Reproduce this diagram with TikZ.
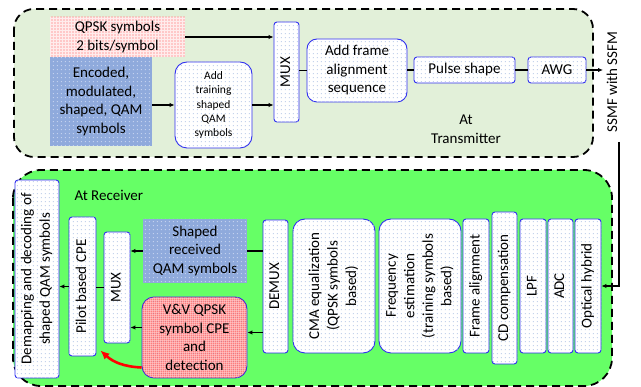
\documentclass[tikz,border=0pt]{standalone}
\usepackage{fontspec}
\setmainfont{Carlito}
\usepackage{graphicx}
\usetikzlibrary{arrows.meta,patterns}

\definecolor{txgreen}{HTML}{E2F0D9}
\definecolor{rxgreen}{HTML}{66FF66}
\definecolor{boxblue}{HTML}{3030F0}
\definecolor{dotblue}{HTML}{C5D3EC}
\definecolor{encblue}{HTML}{8FAADC}
\definecolor{encdot}{HTML}{C2D1EE}
\definecolor{qpink}{HTML}{FFECEC}
\definecolor{vvpink}{HTML}{FFDCDC}

% square dot grids
\pgfdeclarepatternformonly{dotgrid}{\pgfqpoint{0pt}{0pt}}{\pgfqpoint{4pt}{4pt}}{\pgfqpoint{4pt}{4pt}}{%
  \pgfpathrectangle{\pgfqpoint{1pt}{1pt}}{\pgfqpoint{1.3pt}{1.3pt}}\pgfusepath{fill}}
\pgfdeclarepatternformonly{pinkgrid}{\pgfqpoint{0pt}{0pt}}{\pgfqpoint{3pt}{3pt}}{\pgfqpoint{3pt}{3pt}}{%
  \pgfpathrectangle{\pgfqpoint{0.5pt}{0.5pt}}{\pgfqpoint{1.7pt}{1.7pt}}\pgfusepath{fill}}
\pgfdeclarepatternformonly{redgrid}{\pgfqpoint{0pt}{0pt}}{\pgfqpoint{2.4pt}{2.4pt}}{\pgfqpoint{2.4pt}{2.4pt}}{%
  \pgfpathrectangle{\pgfqpoint{0.5pt}{0.5pt}}{\pgfqpoint{1.25pt}{1.25pt}}\pgfusepath{fill}}

\newcommand{\bigtxt}{\fontsize{15}{18.5}\selectfont}
\newcommand{\smalltxt}{\fontsize{11.5}{14.4}\selectfont}
\newcommand{\vtext}[1]{\rotatebox{90}{\begin{tabular}{@{}c@{}}#1\end{tabular}}}

\tikzset{
  blk/.style={draw=boxblue, line width=0.9pt, rounded corners=3pt, fill=white,
    postaction={pattern=dotgrid, pattern color=dotblue}, inner sep=0pt, align=center, font=\bigtxt},
  encbox/.style={fill=encblue, postaction={pattern=dotgrid, pattern color=encdot},
    inner sep=0pt, align=center, font=\bigtxt},
  qpskbox/.style={fill=qpink, postaction={pattern=pinkgrid, pattern color=red!40},
    inner sep=0pt, align=center, font=\bigtxt},
  vvbox/.style={blk, rounded corners=12pt, fill=vvpink, postaction={pattern=redgrid, pattern color=red}},
  arr/.style={-{Latex[length=5pt,width=4.5pt]}, line width=1.2pt},
  ln/.style={line width=1.2pt},
  redarr/.style={-{Latex[length=9pt,width=8pt]}, line width=2.6pt, red},
  area/.style={dash pattern=on 8pt off 5pt, line width=1.8pt}
}

\begin{document}
\begin{tikzpicture}[x=1pt, y=-1pt]
 \useasboundingbox (0,0) rectangle (641,387);
 % transmitter and receiver areas
 \draw[area, fill=txgreen, rounded corners=20pt] (14,9) rectangle (593,157);
 \draw[area, fill=rxgreen, rounded corners=28pt] (13,170) rectangle (612,386);

 % transmitter
 \node[qpskbox, minimum width=135pt, minimum height=40pt] (qpsk) at (117.5,37) {QPSK symbols\\2 bits/symbol};
 \node[encbox, minimum width=102pt, minimum height=89pt] (enc) at (101,101.5) {Encoded,\\modulated,\\shaped, QAM\\symbols};
 \node[blk, rounded corners=12pt, font=\smalltxt, minimum width=77pt, minimum height=86pt] (train) at (213.5,105) {Add\\training\\shaped\\QAM\\symbols};
 \node[blk, minimum width=25pt, minimum height=100pt] (txmux) at (286.5,72) {\vtext{MUX}};
 \node[blk, rounded corners=10pt, minimum width=100pt, minimum height=63pt] (frame) at (357,70.5) {Add frame\\alignment\\sequence};
 \node[blk, minimum width=101pt, minimum height=26pt] (pulse) at (464.5,70) {Pulse shape};
 \node[blk, minimum width=58pt, minimum height=26pt] (awg) at (557,70) {AWG};
 \node[font=\bigtxt, align=center] (txlabel) at (466,129) {At\\Transmitter};
 \node[font=\bigtxt, rotate=90] (ssmf) at (612,82) {SSMF with SSFM};
 \coordinate (out) at (603,70);
 \coordinate (fiber) at (619,142);

 \draw[arr] (qpsk.east) -- (qpsk -| txmux.west);
 \draw[arr] (enc.east |- train) -- (train.west);
 \draw[arr] (train.east) -- (train -| txmux.west);
 \draw[ln] (txmux.east |- frame) -- (frame.west);
 \draw[ln] (frame.east |- pulse) -- (pulse.west);
 \draw[ln] (pulse.east) -- (awg.west);
 \draw[arr] (awg.east) -- (out);

 % receiver
 \node[blk, minimum width=44pt, minimum height=198pt] (demap) at (37,279) {\vtext{Demapping and decoding of\\shaped QAM symbols}};
 \node[font=\bigtxt, anchor=west] (rxlabel) at (71,195) {At Receiver};
 \node[blk, minimum width=27pt, minimum height=139pt] (pilot) at (82.5,286.5) {\vtext{Pilot based CPE}};
 \node[blk, minimum width=26pt, minimum height=111pt] (rxmux) at (117,287.5) {\vtext{MUX}};
 \node[encbox, minimum width=104pt, minimum height=64pt] (shaped) at (195,251) {Shaped\\received\\QAM symbols};
 \node[vvbox, minimum width=105pt, minimum height=81pt] (vv) at (194.5,337.5) {V\&V QPSK\\symbol CPE\\and\\detection};
 \node[blk, minimum width=25pt, minimum height=133pt] (demux) at (275.5,286.5) {\vtext{DEMUX}};
 \node[blk, rounded corners=12pt, minimum width=82pt, minimum height=134pt] (cma) at (334,286) {\vtext{CMA equalization\\(QPSK symbols\\based)}};
 \node[blk, rounded corners=12pt, minimum width=82pt, minimum height=134pt] (freq) at (420,286) {\vtext{Frequency\\estimation\\(training symbols\\based)}};
 \node[blk, minimum width=26pt, minimum height=134pt] (falign) at (476,286) {\vtext{Frame alignment}};
 \node[blk, minimum width=25pt, minimum height=152pt] (cd) at (504.5,288) {\vtext{CD compensation}};
 \node[blk, minimum width=26pt, minimum height=134pt] (lpf) at (533,286) {\vtext{LPF}};
 \node[blk, minimum width=25pt, minimum height=134pt] (adc) at (560.5,286) {\vtext{ADC}};
 \node[blk, minimum width=26pt, minimum height=134pt] (hyb) at (588,286) {\vtext{Optical hybrid}};

 \draw[arr] (fiber) |- (hyb.east);
 \draw[ln] (demux.west |- shaped) -- (shaped.east);
 \draw[arr] (shaped.west) -- (shaped -| rxmux.east);
 \draw[arr] ([yshift=5pt]demux.west |- vv) -- ([yshift=5pt]vv.east);
 \draw[arr] ([yshift=10pt]vv.west) -- ([yshift=10pt]vv.west -| rxmux.east);
 \draw[ln] (rxmux.west) -- (rxmux -| pilot.east);
 \draw[arr] (pilot.west) -- (pilot -| demap.east);
 \draw[redarr] ([yshift=-30pt]vv.west) to[bend left=20] ([xshift=4pt,yshift=6pt]pilot.south east);
\end{tikzpicture}
\end{document}
